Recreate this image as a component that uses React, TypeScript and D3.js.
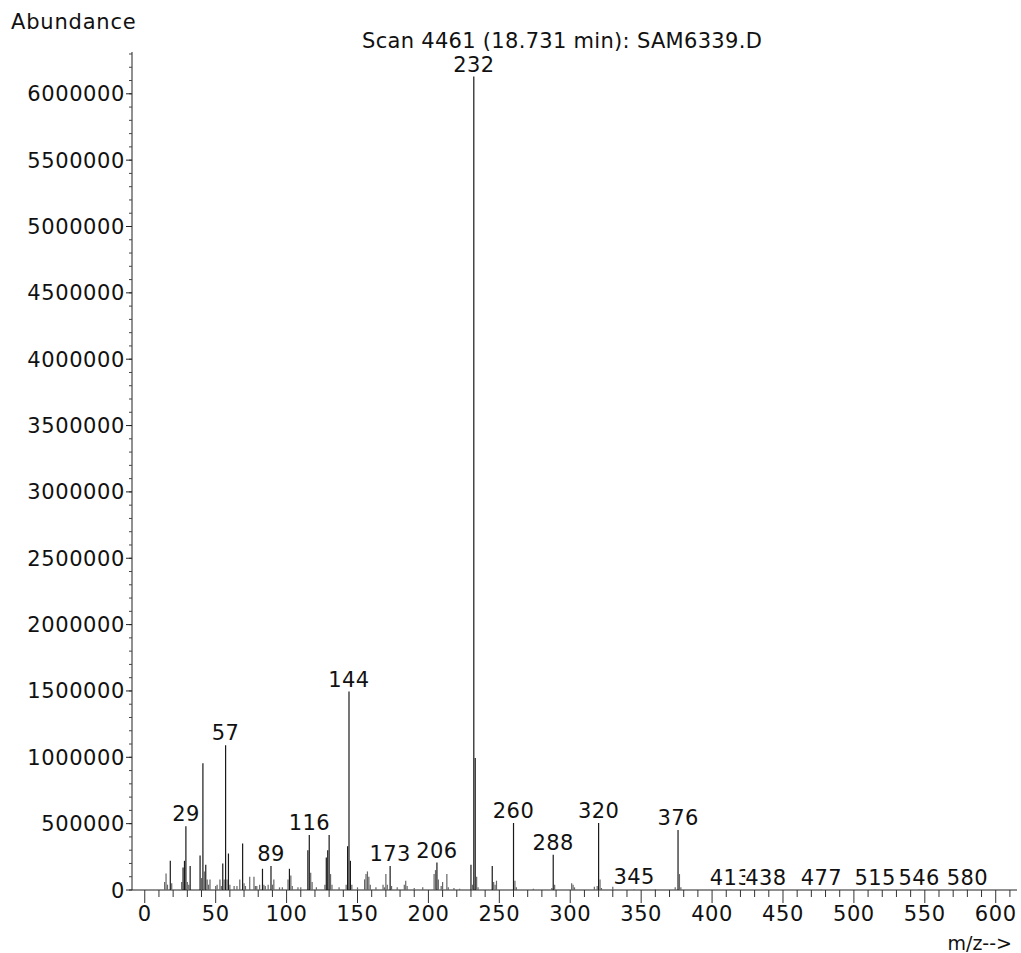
import React from "react";
import * as d3 from "d3";

// peak table (m/z, abundance)
const peakMz = [
  14, 15, 16, 18, 19, 26, 27, 28, 29, 30, 31, 32, 39, 40, 41, 42, 43, 44, 45, 46,
  50, 51, 53, 54, 55, 56, 57, 58, 59, 60, 63, 65, 67, 69, 70, 71, 74, 77, 78, 79,
  81, 83, 84, 85, 87, 89, 90, 91, 95, 97, 101, 102, 103, 104, 108, 110, 115, 116, 117, 118,
  121, 127, 128, 129, 130, 131, 132, 137, 142, 143, 144, 145, 146, 150, 155, 156, 157, 158, 159, 163,
  168, 169, 170, 171, 173, 174, 178, 183, 184, 185, 190, 196, 204, 205, 206, 207, 209, 210, 213, 214,
  218, 222, 230, 231, 232, 233, 234, 235, 245, 246, 247, 248, 260, 261, 262, 274, 287, 288, 289, 301,
  302, 303, 317, 319, 320, 321, 322, 330, 345, 360, 374, 376, 377, 378, 413, 438, 477, 515, 546, 580,
];
const peakAbundance = [
  60000, 125000, 40000, 220000, 50000, 60000, 170000, 220000, 480000, 60000, 40000, 180000, 260000, 90000, 955000, 140000, 190000, 80000, 40000, 80000,
  30000, 40000, 80000, 30000, 200000, 80000, 1090000, 80000, 275000, 40000, 30000, 30000, 80000, 350000, 50000, 30000, 100000, 100000, 30000, 30000,
  40000, 160000, 40000, 30000, 40000, 180000, 40000, 80000, 20000, 20000, 80000, 160000, 110000, 30000, 20000, 20000, 300000, 415000, 130000, 60000,
  20000, 40000, 245000, 300000, 415000, 120000, 40000, 20000, 40000, 330000, 1495000, 220000, 40000, 20000, 80000, 120000, 140000, 100000, 40000, 20000,
  40000, 20000, 120000, 40000, 180000, 30000, 20000, 40000, 70000, 30000, 15000, 20000, 120000, 150000, 207000, 80000, 30000, 60000, 120000, 20000,
  15000, 10000, 190000, 40000, 6130000, 995000, 100000, 20000, 180000, 60000, 40000, 70000, 505000, 70000, 20000, 10000, 15000, 265000, 40000, 50000,
  40000, 20000, 25000, 30000, 505000, 80000, 15000, 25000, 5000, 5000, 20000, 452000, 120000, 20000, 3000, 3000, 3000, 3000, 3000, 3000,
];
const labelledMz = [29, 57, 89, 116, 144, 173, 206, 232, 260, 288, 320, 345, 376, 413, 438, 477, 515, 546, 580];

const yTicks = [0, 500000, 1000000, 1500000, 2000000, 2500000, 3000000, 3500000, 4000000, 4500000, 5000000, 5500000, 6000000];
const xTicks = [0, 50, 100, 150, 200, 250, 300, 350, 400, 450, 500, 550, 600];

const title = "Scan 4461 (18.731 min): SAM6339.D";

const W = 1021;
const H = 953;
const FONT = "DejaVu Sans, sans-serif";

export default function App() {
  const x = d3.scaleLinear().domain([-9, 615]).range([132, 1017]);
  const y = d3.scaleLinear().domain([0, 6315000]).range([890, 52]);

  const minorX = d3.range(0, 611, 10);
  const minorY = d3.range(0, 6300001, 100000);

  const peaks = peakMz.map((mz, i) => ({ mz, v: peakAbundance[i] }));
  const labels = labelledMz.map(mz => peaks.find(p => p.mz === mz)!);

  return (
    <svg width={W} height={H} style={{ position: "absolute", left: 0, top: 0, background: "#fff" }}
      fontFamily={FONT}>
      <rect width={W} height={H} fill="#fff" />
      <text x={11} y={29} fontSize={21} letterSpacing={0.8} fill="#111">Abundance</text>
      <text x={362} y={48} fontSize={21} letterSpacing={0.3} fill="#111">{title}</text>

      {/* y axis */}
      <line x1={132} x2={132} y1={52} y2={890} stroke="#222" strokeWidth={1} />
      {minorY.map(v => (
        <line key={"my" + v} x1={129} x2={132} y1={y(v)} y2={y(v)} stroke="#444" strokeWidth={1} />
      ))}
      {yTicks.map(v => (
        <g key={"y" + v}>
          <line x1={126} x2={132} y1={y(v)} y2={y(v)} stroke="#222" />
          <text x={125} y={y(v) + 7.5} textAnchor="end" fontSize={21} letterSpacing={0.6} fill="#111">{v}</text>
        </g>
      ))}

      {/* x axis */}
      <line x1={132} x2={1017} y1={890} y2={890} stroke="#222" strokeWidth={1} />
      {minorX.map(v => (
        <line key={"mx" + v} x1={x(v)} x2={x(v)} y1={890} y2={v % 50 === 0 ? 903 : 897} stroke="#333" />
      ))}
      {xTicks.map(v => (
        <text key={"x" + v} x={x(v)} y={921} textAnchor="middle" fontSize={21} letterSpacing={0.6} fill="#111">{v}</text>
      ))}
      <text x={1012} y={950} textAnchor="end" fontSize={19} fill="#111">m/z--&gt;</text>

      {/* peaks */}
      {peaks.map(p => (
        <line key={"p" + p.mz} x1={x(p.mz)} x2={x(p.mz)} y1={890} y2={y(p.v)}
          stroke={p.v > 150000 ? "#1a1a1a" : "#666"} strokeWidth={1.2} />
      ))}

      {/* peak labels, later ones paint over earlier ones */}
      {labels.map(p => {
        const ly = Math.min(y(p.v) - 5, 887);
        const w = String(p.mz).length * 13.8;
        return (
          <g key={"l" + p.mz}>
            <rect x={x(p.mz) - w / 2} y={ly - 16} width={w} height={17} fill="#fff" />
            <text x={x(p.mz)} y={ly} textAnchor="middle" fontSize={21} letterSpacing={0.4} fill="#111">{p.mz}</text>
          </g>
        );
      })}
    </svg>
  );
}
